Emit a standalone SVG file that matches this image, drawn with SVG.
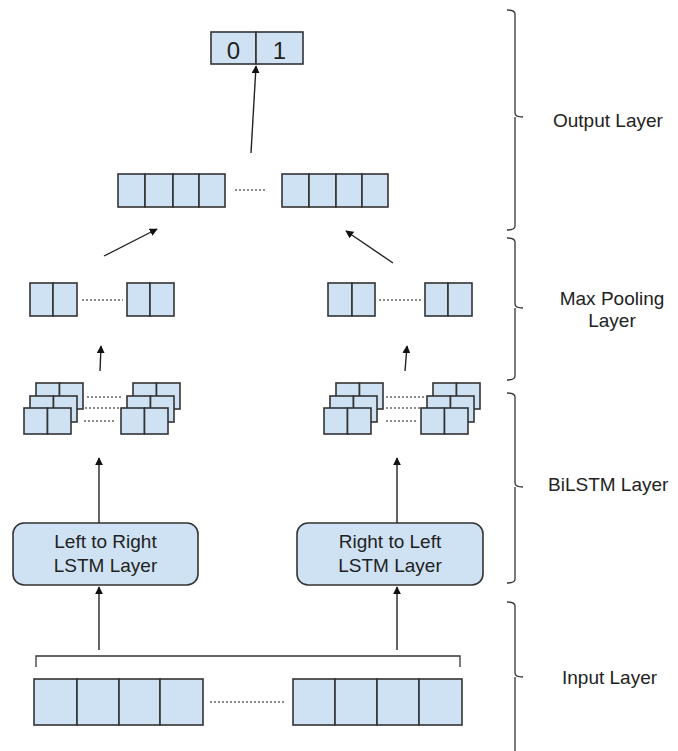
<svg xmlns="http://www.w3.org/2000/svg" width="678" height="751" viewBox="0 0 678 751">
<style>
.c{fill:#cfe2f3;stroke:#333;stroke-width:1.6}
.d{stroke:#666;stroke-width:1.4;stroke-dasharray:2,2;fill:none}
.a{stroke:#222;stroke-width:1.4;fill:none;marker-end:url(#ah)}
.b{stroke:#333;stroke-width:1.3;fill:none}
.t{font-family:"Liberation Sans",Arial,sans-serif;font-size:19px;fill:#222}
</style>
<defs>
<marker id="ah" viewBox="0 0 10 10" refX="9" refY="5" markerWidth="8" markerHeight="8" markerUnits="userSpaceOnUse" orient="auto">
<path d="M0,0 L10,5 L0,10 z" fill="#111"/>
</marker>
<g id="pair"><rect class="c" x="0" y="0" width="23.5" height="26"/><rect class="c" x="23.5" y="0" width="23.5" height="26"/></g>
<g id="stack"><use href="#pair" x="12" y="-25"/><use href="#pair" x="6" y="-12"/><use href="#pair" x="0" y="0"/></g>
</defs>
<rect width="678" height="751" fill="#fff"/>

<g id="output">
<rect class="c" x="211" y="32" width="45" height="32"/>
<rect class="c" x="256" y="32" width="47" height="32"/>
<text class="t" x="233.5" y="59" text-anchor="middle" style="font-size:24px">0</text>
<text class="t" x="279.5" y="59" text-anchor="middle" style="font-size:24px">1</text>
</g>

<g id="concat">
<rect class="c" x="118" y="174" width="27" height="33"/><rect class="c" x="145" y="174" width="28" height="33"/><rect class="c" x="173" y="174" width="26" height="33"/><rect class="c" x="199" y="174" width="26" height="33"/>
<line class="d" x1="235" y1="190" x2="267" y2="190"/>
<rect class="c" x="282" y="174" width="27" height="33"/><rect class="c" x="309" y="174" width="27" height="33"/><rect class="c" x="336" y="174" width="26" height="33"/><rect class="c" x="362" y="174" width="26" height="33"/>
</g>

<g id="maxpool-left">
<rect class="c" x="30" y="283" width="23" height="33"/><rect class="c" x="53" y="283" width="24" height="33"/>
<line class="d" x1="82" y1="300" x2="123" y2="300"/>
<rect class="c" x="127" y="283" width="23" height="33"/><rect class="c" x="150" y="283" width="24" height="33"/>
</g>
<g id="maxpool-right">
<rect class="c" x="328" y="283" width="24" height="33"/><rect class="c" x="352" y="283" width="23" height="33"/>
<line class="d" x1="379" y1="300" x2="421" y2="300"/>
<rect class="c" x="425" y="283" width="23" height="33"/><rect class="c" x="448" y="283" width="24" height="33"/>
</g>

<g id="bilstm-left">
<use href="#stack" x="24" y="408"/>
<line class="d" x1="87" y1="397" x2="122" y2="397"/>
<line class="d" x1="85" y1="408" x2="120" y2="408"/>
<line class="d" x1="84" y1="421" x2="114" y2="421"/>
<use href="#stack" x="121" y="408"/>
</g>
<g id="bilstm-right">
<use href="#stack" x="324" y="408"/>
<line class="d" x1="386" y1="397" x2="425" y2="397"/>
<line class="d" x1="386" y1="408" x2="421" y2="408"/>
<line class="d" x1="386" y1="421" x2="418" y2="421"/>
<use href="#stack" x="421" y="408"/>
</g>

<g id="lstm-lr">
<rect class="c" x="13" y="523" width="185" height="62" rx="11"/>
<text class="t" x="105.5" y="548" text-anchor="middle">Left to Right</text>
<text class="t" x="105.5" y="572" text-anchor="middle">LSTM Layer</text>
</g>
<g id="lstm-rl">
<rect class="c" x="297" y="523" width="186" height="62" rx="11"/>
<text class="t" x="390" y="548" text-anchor="middle">Right to Left</text>
<text class="t" x="390" y="572" text-anchor="middle">LSTM Layer</text>
</g>

<g id="input">
<path class="b" d="M36,667 L36,656 L460,656 L460,667"/>
<rect class="c" x="34" y="679" width="43" height="46"/><rect class="c" x="77" y="679" width="42" height="46"/><rect class="c" x="119" y="679" width="41" height="46"/><rect class="c" x="160" y="679" width="43" height="46"/>
<line class="d" x1="210" y1="702" x2="285" y2="702"/>
<rect class="c" x="293" y="679" width="42" height="46"/><rect class="c" x="335" y="679" width="42" height="46"/><rect class="c" x="377" y="679" width="42" height="46"/><rect class="c" x="419" y="679" width="43" height="46"/>
</g>

<g id="connectors">
<line class="a" x1="251" y1="153" x2="256" y2="66"/>
<line class="a" x1="104" y1="256" x2="157" y2="229"/>
<line class="a" x1="393" y1="263" x2="346" y2="231"/>
<line class="a" x1="100" y1="371" x2="101" y2="346"/>
<line class="a" x1="405" y1="371" x2="407" y2="346"/>
<line class="a" x1="99" y1="523" x2="99" y2="458"/>
<line class="a" x1="397" y1="523" x2="397" y2="458"/>
<line class="a" x1="99" y1="650" x2="99" y2="587"/>
<line class="a" x1="397" y1="650" x2="397" y2="587"/>
</g>

<g id="layer-labels">
<path class="b" d="M507,10 Q515,10 515,14 L515,113 Q515,117 523,117 M515,117 L515,226 Q515,230 507,230"/>
<text class="t" x="553" y="127">Output Layer</text>
<path class="b" d="M507,238 Q515,238 515,242 L515,304 Q515,308 523,308 M515,308 L515,376 Q515,380 507,380"/>
<text class="t" x="612" y="305" text-anchor="middle">Max Pooling</text>
<text class="t" x="612" y="327" text-anchor="middle">Layer</text>
<path class="b" d="M507,393 Q515,393 515,397 L515,483 Q515,487 523,487 M515,487 L515,579 Q515,583 507,583"/>
<text class="t" x="548" y="491">BiLSTM Layer</text>
<path class="b" d="M507,602 Q515,602 515,606 L515,673 Q515,677 523,677 M515,677 L515,751"/>
<text class="t" x="562" y="684">Input Layer</text>
</g>
</svg>
